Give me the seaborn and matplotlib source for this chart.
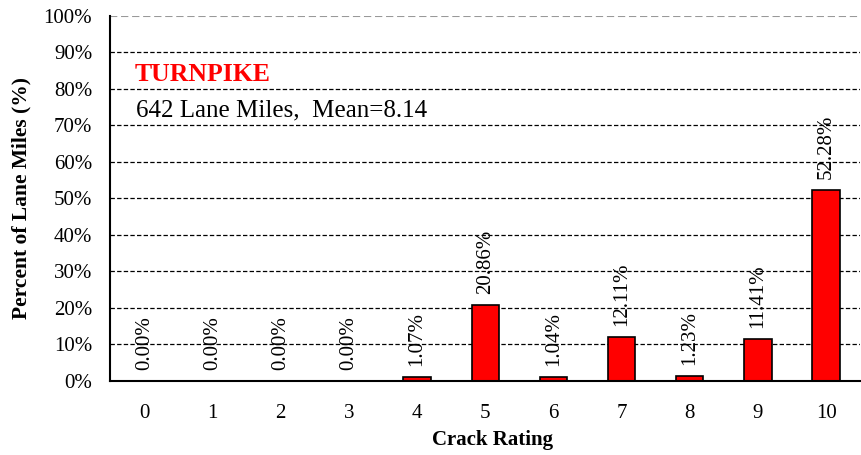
import matplotlib
matplotlib.use("Agg")
import matplotlib.pyplot as plt
import seaborn as sns
import pandas as pd

# Data
ratings = ["0", "1", "2", "3", "4", "5", "6", "7", "8", "9", "10"]
percents = [0.00, 0.00, 0.00, 0.00, 1.07, 20.86, 1.04, 12.11, 1.23, 11.41, 52.28]
title_text = "TURNPIKE"
subtitle_text = "642 Lane Miles,  Mean=8.14"

sns.set_theme(style="white")
plt.rcParams["font.family"] = ["Liberation Serif", "DejaVu Serif"]
plt.rcParams["text.color"] = "black"
plt.rcParams["axes.labelcolor"] = "black"
plt.rcParams["xtick.color"] = "black"
plt.rcParams["ytick.color"] = "black"

df = pd.DataFrame({"rating": ratings, "pct": percents})

fig = plt.figure(figsize=(8.61, 4.55), dpi=100)
ax = fig.add_axes([0.128, 0.163, 0.871, 0.802])

sns.barplot(data=df, x="rating", y="pct", color="#ff0000", saturation=1,
            edgecolor="black", linewidth=1.2, width=0.4, ax=ax)

# bar value labels, rotated
for i, v in enumerate(percents):
    ax.annotate(f"{v:.2f}%", (i, v), xytext=(0, 8), textcoords="offset points",
                rotation=90, ha="center", va="bottom", fontsize=15, color="black")

ax.set_ylim(0, 100)
ax.set_xlim(-0.5, len(ratings) - 0.5)
ax.set_yticks(range(0, 101, 10))
ax.set_yticklabels([f"{t}%" for t in range(0, 101, 10)], fontsize=15)

# gridlines
for t in range(10, 100, 10):
    ax.axhline(t, color="black", linestyle=(0, (3.5, 1.8)), linewidth=0.9, zorder=0)
ax.axhline(100, color="#999999", linestyle=(0, (3.5, 1.8)), linewidth=1.5, zorder=0)

# x ticks at category boundaries, labels centered
ax.set_xticks([i - 0.5 for i in range(len(ratings) + 1)])
ax.set_xticklabels([])
ax.set_xticks(range(len(ratings)), minor=True)
ax.set_xticklabels(ratings, minor=True, fontsize=15)
ax.tick_params(axis="x", which="major", direction="out", length=6, width=1.2, color="black")
ax.tick_params(axis="x", which="minor", length=0, pad=17)
ax.tick_params(axis="y", direction="out", length=6, width=1.2, color="black", pad=7)

for s in ["top", "right"]:
    ax.spines[s].set_visible(False)
for s in ["left", "bottom"]:
    ax.spines[s].set_color("black")
    ax.spines[s].set_linewidth(1.5)

ax.set_xlabel("Crack Rating", fontsize=15, fontweight="bold")
ax.xaxis.set_label_coords(0.51, -0.135)
ax.set_ylabel("Percent of Lane Miles (%)", fontsize=15.5, fontweight="bold", labelpad=9)

ax.text(0.033, 0.84, title_text, transform=ax.transAxes, fontsize=18.5,
        fontweight="bold", color="#ff0000", va="center")
ax.text(0.035, 0.74, subtitle_text, transform=ax.transAxes, fontsize=18,
        color="black", va="center")

fig.savefig("out.png", dpi=100)
